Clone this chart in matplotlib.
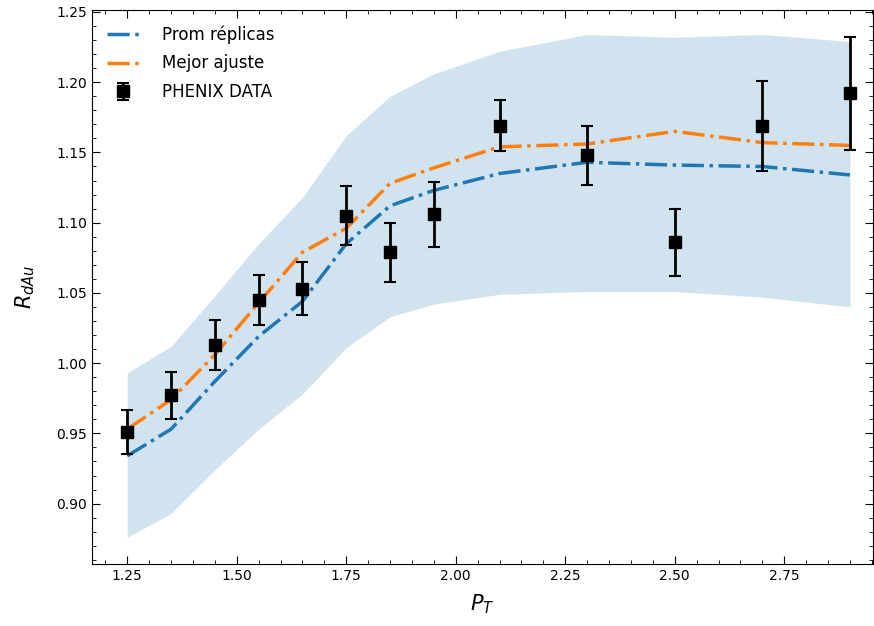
import numpy as np
import matplotlib.pyplot as plt
from matplotlib.ticker import MultipleLocator

pt = [1.25, 1.35, 1.45, 1.55, 1.65, 1.75, 1.85, 1.95, 2.10, 2.30, 2.50, 2.70, 2.90]

# PHENIX data
r_data = [0.951, 0.977, 1.013, 1.045, 1.053, 1.105, 1.079, 1.106, 1.169, 1.148, 1.086, 1.169, 1.192]
r_err = [0.016, 0.017, 0.018, 0.018, 0.019, 0.021, 0.021, 0.023, 0.018, 0.021, 0.024, 0.032, 0.040]

# promedio de replicas y banda
r_mean = [0.934, 0.953, 0.987, 1.019, 1.044, 1.085, 1.112, 1.123, 1.135, 1.143, 1.141, 1.140, 1.134]
r_low = [0.876, 0.893, 0.924, 0.953, 0.978, 1.011, 1.033, 1.042, 1.049, 1.051, 1.051, 1.047, 1.040]
r_up = [0.993, 1.012, 1.048, 1.085, 1.118, 1.162, 1.190, 1.206, 1.222, 1.234, 1.232, 1.234, 1.229]

# mejor ajuste
r_best = [0.953, 0.974, 1.006, 1.043, 1.079, 1.096, 1.128, 1.139, 1.154, 1.156, 1.165, 1.157, 1.155]

fig = plt.figure(figsize=(8.74, 6.26), dpi=100)
ax = fig.add_axes([0.105, 0.099, 0.894, 0.885])

ax.fill_between(pt, r_low, r_up, color='C0', alpha=0.2, linewidth=0)
ax.plot(pt, r_mean, '-.', color='C0', lw=2.5, label='Prom réplicas')
ax.plot(pt, r_best, '-.', color='C1', lw=2.5, label='Mejor ajuste')
ax.errorbar(pt, r_data, yerr=r_err, fmt='s', color='black', markersize=8,
            elinewidth=2, capsize=4, capthick=1.5, label='PHENIX DATA')

ax.set_xlim(1.169, 2.953)
ax.set_ylim(0.857, 1.2514)
ax.set_xlabel(r'$P_T$', fontsize=15, labelpad=7)
ax.set_ylabel(r'$R_{dAu}$', fontsize=15, labelpad=14)
ax.xaxis.set_major_locator(MultipleLocator(0.25))
ax.xaxis.set_minor_locator(MultipleLocator(0.05))
ax.yaxis.set_major_locator(MultipleLocator(0.05))
ax.yaxis.set_minor_locator(MultipleLocator(0.01))
ax.tick_params(which='both', direction='in', top=True, right=True, labelsize=10)
ax.tick_params(which='major', length=6)
ax.tick_params(which='minor', length=3)
ax.legend(loc='upper left', frameon=False, fontsize=12,
          handletextpad=1.3, labelspacing=0.65)

plt.savefig('out.png')
